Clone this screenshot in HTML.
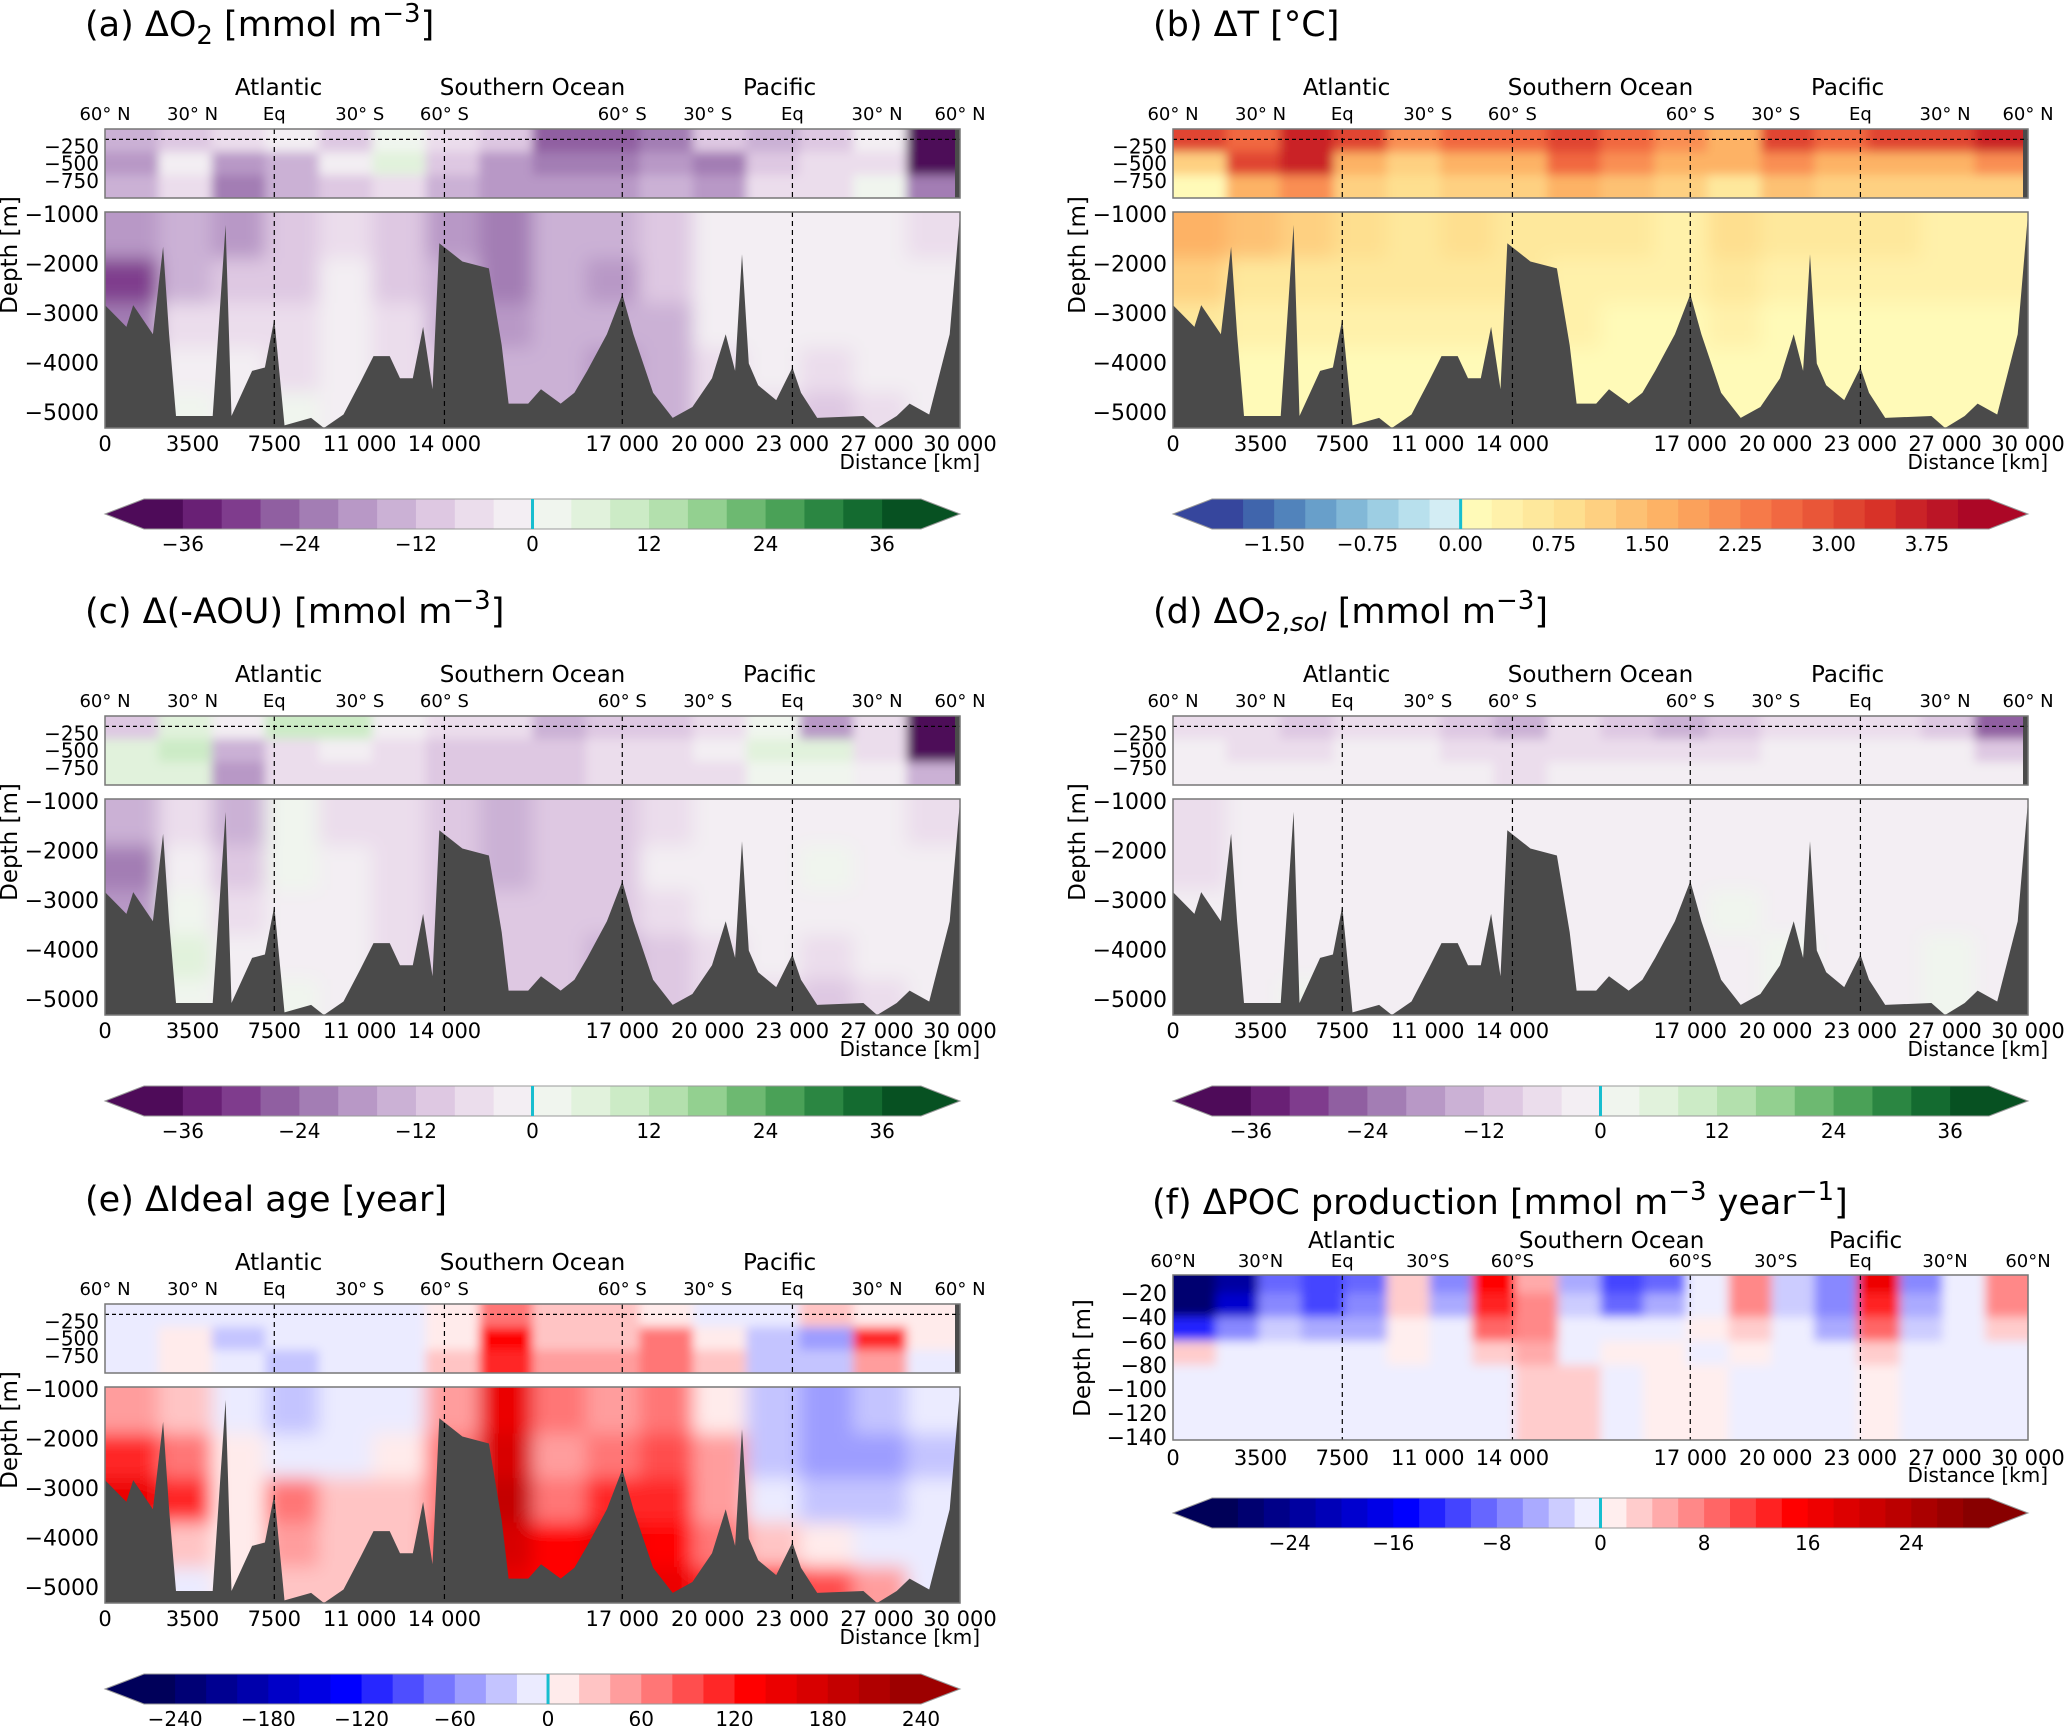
<!DOCTYPE html>
<html><head><meta charset="utf-8">
<style>
html,body{margin:0;padding:0;background:#fff;}
svg{display:block;font-family:"DejaVu Sans","Liberation Sans",sans-serif;}
</style></head>
<body>
<svg id="fig" width="2067" height="1726" viewBox="0 0 2067 1726" xmlns="http://www.w3.org/2000/svg">
<defs>
<filter id="blur" x="-5%" y="-20%" width="110%" height="140%"><feGaussianBlur stdDeviation="9"/></filter>
<filter id="blurS" x="-5%" y="-20%" width="110%" height="140%"><feGaussianBlur stdDeviation="5"/></filter>
</defs>
</svg>
<script>
// ---------- shared axis data ----------
const tickFracs=[0,0.1024,0.198,0.298,0.397,0.605,0.705,0.804,0.903,1];
const distLabels=["0","3500","7500","11 000","14 000","17 000","20 000","23 000","27 000","30 000"];
const latLabels=["60° N","30° N","Eq","30° S","60° S","60° S","30° S","Eq","30° N","60° N"];
const latLabelsF=["60°N","30°N","Eq","30°S","60°S","60°S","30°S","Eq","30°N","60°N"];
const dashFracs=[0.198,0.397,0.605,0.804];
const upperTicks=[-250,-500,-750];
const lowerTicks=[-1000,-2000,-3000,-4000,-5000];
const fTicks=[-20,-40,-60,-80,-100,-120,-140];
// bathymetry (distance fraction, depth m)
const bathyFrac=[0,0.025,0.033,0.056,0.068,0.075,0.083,0.126,0.141,0.148,0.172,0.187,0.198,0.21,0.241,0.256,0.279,0.299,0.314,0.333,0.345,0.36,0.372,0.383,0.391,0.418,0.449,0.464,0.472,0.495,0.51,0.533,0.549,0.564,0.587,0.605,0.618,0.641,0.664,0.687,0.71,0.726,0.737,0.745,0.753,0.764,0.785,0.804,0.814,0.833,0.887,0.903,0.926,0.941,0.964,0.988,1];
const bathyDepth=[-2840,-3280,-2840,-3430,-1660,-3430,-5080,-5080,-1220,-5080,-4170,-4100,-3130,-5270,-5120,-5340,-5050,-4390,-3870,-3870,-4320,-4320,-3280,-4540,-1590,-1960,-2100,-3650,-4830,-4830,-4540,-4830,-4610,-4170,-3430,-2620,-3430,-4610,-5120,-4900,-4320,-3430,-4170,-1810,-4020,-4460,-4760,-4100,-4610,-5120,-5080,-5340,-5080,-4830,-5050,-3430,-1000];
// ---------- panel field data ----------
const aUpper=[[-16,-12,-8,-4,-12,2,-8,-12,-28,-28,-24,-12,-16,-12,-4,-40],[-20,-4,-20,-16,-4,4,-12,-20,-24,-24,-20,-24,-12,-8,-8,-40],[-16,-8,-24,-16,-12,-8,-16,-20,-20,-20,-16,-20,-8,-8,0,-24]];
const aLower=[[-20,-16,-20,-12,-8,-12,-20,-24,-14,-16,-12,-4,-4,-4,-4,-6],[-32,-16,-12,-10,-4,-10,-16,-24,-16,-18,-12,-2,-4,-4,-4,-4],[-24,-6,-6,-8,-4,-8,-14,-20,-14,-16,-16,-4,-4,-4,-4,-4],[-20,-2,-4,-6,-4,-8,-12,-16,-14,-18,-16,-8,-4,-8,-4,-4],[-20,0,-4,2,-4,-6,-10,-14,-14,-18,-16,-8,-6,-12,-8,-4]];
const bUpper=[[3,2.6,3.5,3,2,2.6,2.6,3.1,2.6,2.1,1.6,3,2.6,3,3.1,3.6],[1,3,3.5,1.6,1.1,1.6,1.6,2.6,2.1,1.6,1.6,2.1,1.6,1.6,1.6,2.1],[0.1,1.6,2.1,1.1,0.8,1.1,1.1,1.6,1.3,1.1,0.6,1.3,1.1,1.1,1.1,1.1]];
const bLower=[[1.6,1.3,1.1,0.8,0.6,0.8,0.6,0.6,0.6,0.3,0.8,0.6,0.6,0.6,0.3,0.3],[1.1,0.6,0.6,0.6,0.6,0.6,0.6,0.3,0.3,0.3,0.6,0.3,0.3,0.3,0.3,0.3],[0.6,0.4,0.3,0.3,0.3,0.3,0.3,0.3,0.1,0.1,0.3,0.1,0.1,0.1,0.1,0.1],[0.4,0.1,0.1,0.1,0.1,0.1,0.1,0.1,0.1,0.1,0.1,0.1,0.1,0.1,0.1,0.1],[0.3,0.1,0.1,0.1,0.1,0.1,0.1,0.1,0.1,0.1,0.1,0.1,0.1,0.1,0.1,0.1]];
const cUpper=[[-10,4,-4,10,8,-4,-6,-8,-16,-10,-10,-8,0,-20,-6,-40],[4,10,-16,-6,-4,-8,-10,-12,-12,-8,-6,-4,4,4,-8,-40],[4,4,-18,-6,-8,-8,-12,-10,-10,-8,-6,-6,2,2,-4,-16]];
const cLower=[[-14,-6,-14,0,-6,-8,-12,-14,-10,-10,-6,-4,-4,-4,-4,-6],[-22,-4,-10,2,-4,-6,-12,-14,-10,-10,-4,-2,-2,0,-2,-4],[-18,2,-6,-2,-4,-6,-12,-12,-12,-12,-6,-4,-4,-4,-4,-4],[-12,4,-2,-2,-4,-6,-10,-12,-12,-14,-10,-6,-4,-6,-4,-4],[-12,2,-2,2,-4,-6,-10,-12,-12,-14,-12,-6,-6,-10,-6,-4]];
const dUpper=[[-6,-8,-10,-6,-8,-10,-14,-8,-10,-14,-10,-8,-8,-8,-10,-28],[-2,-8,-6,-4,-4,-6,-8,-6,-6,-6,-6,-4,-4,-4,-4,-10],[-2,-4,-4,-2,-2,-4,-6,-4,-4,-4,-2,-2,-2,-2,-2,-4]];
const dLower=[[-6,-4,-4,-2,-2,-2,-4,-4,-2,-2,-2,-2,-2,-2,-2,-2],[-6,-2,-2,-2,-2,-2,-2,-2,-2,-2,-2,-1,-2,-2,-2,-2],[-4,-1,-2,-2,-2,-2,-2,-2,-2,-2,1,-1,-2,-2,-1,-1],[-2,-1,-1,-1,-2,-2,-2,-2,-2,-2,-1,1,-1,-2,1,-1],[-2,-1,1,-1,-2,-2,-2,-2,-2,-2,-1,1,-1,-2,1,-1]];
const eUpper=[[-10,-10,-20,-10,-10,-10,10,60,20,20,10,-20,-20,20,10,10],[-10,10,-30,-20,-20,-10,10,120,30,30,60,10,-40,-60,100,10],[-10,10,-10,-30,-20,-10,20,110,40,40,60,20,-40,-40,40,-10]];
const eLower=[[40,20,-10,-30,-20,-10,50,140,60,40,70,10,-40,-50,-40,-20],[110,70,10,-20,-10,10,60,160,50,60,80,40,-30,-60,-60,-30],[140,110,10,60,20,20,70,180,70,100,100,40,-10,-30,-30,-20],[100,20,10,40,30,30,80,160,120,140,120,60,30,10,-10,-10],[80,-10,10,20,30,30,80,140,130,160,150,100,120,80,40,-10]];
const fField=[[-28,-24,-10,-12,-10,2,-8,14,4,-6,-12,-10,-2,6,-4,-8,16,-8,-2,6],[-28,-20,-8,-12,-8,2,-6,12,6,-4,-10,-6,-2,6,-4,-8,12,-6,-2,6],[-14,-8,-4,-6,-6,1,-2,8,6,-2,-2,-2,1,2,-2,-6,8,-4,-1,2],[2,-2,-2,-2,-2,1,-1,3,4,-1,1,1,-1,1,-1,-2,2,-1,-1,-1],[-1,-1,-1,-1,-1,-1,-1,-1,2,2,-1,1,1,-1,-1,-1,1,-1,-1,-1]];
const fDepthEdges=[-5,-20,-40,-60,-80,-143];
// colorbar labels
const cbPRGnTicks=[-36,-24,-12,0,12,24,36];
const cbTTicks=["-1.50","-0.75","0.00","0.75","1.50","2.25","3.00","3.75"];
const cbETicks=[-240,-180,-120,-60,0,60,120,180,240];
const cbFTicks=[-24,-16,-8,0,8,16,24];

// ---------- colormaps ----------
function hex(h){return [parseInt(h.substr(1,2),16),parseInt(h.substr(3,2),16),parseInt(h.substr(5,2),16)];}
function interp(anch,t){t=Math.max(0,Math.min(1,t));const n=anch.length-1;const i=Math.min(n-1,Math.floor(t*n));const f=t*n-i;const a=hex(anch[i]),b=hex(anch[i+1]);return `rgb(${a.map((v,k)=>Math.round(v+(b[k]-v)*f)).join(',')})`;}
const PRGN=["#40004b","#762a83","#9970ab","#c2a5cf","#e7d4e8","#f7f7f7","#d9f0d3","#a6dba0","#5aae61","#1b7837","#00441b"];
const SEIS=["#00004c","#0000ff","#ffffff","#ff0000","#7f0000"];
const BLUES=["#313695","#4575b4","#74add1","#abd9e9","#e0f3f8"];
const WARM=["#ffffbf","#fee090","#fdae61","#f46d43","#d73027","#a50026"];
function mkBin(step,lo,hi,fn){return v=>{let c=Math.floor(v/step)*step+step/2;c=Math.max(lo+step/2,Math.min(hi-step/2,c));return fn(c);};}
const cmA=mkBin(4,-40,40,c=>interp(PRGN,(c+40)/80));
const cmT=mkBin(0.25,-2,4.25,c=>c<0?interp(BLUES,(c+2)/2):interp(WARM,c/4.25));
const cmE=mkBin(20,-260,240,c=>interp(SEIS,(c+260)/520));
const cmF=mkBin(2,-30,30,c=>interp(SEIS,(c+30)/60));

const NS="http://www.w3.org/2000/svg";
const fig=document.getElementById('fig');
function el(tag,attrs,parent,text){const e=document.createElementNS(NS,tag);for(const k in attrs)e.setAttribute(k,attrs[k]);if(text!==undefined)e.textContent=text;(parent||fig).appendChild(e);return e;}
let clipId=0;
const PW=855;

function drawGrid(g,grid,x0,x1,yEdges,cmap,blurId){
  const ncol=grid[0].length,cw=(x1-x0)/ncol;
  const cid='clip'+(clipId++);
  const cp=el('clipPath',{id:cid},g);
  el('rect',{x:x0,y:yEdges[0],width:x1-x0,height:yEdges[yEdges.length-1]-yEdges[0]},cp);
  const holder=el('g',{'clip-path':`url(#${cid})`},g);
  const inner=el('g',{filter:`url(#${blurId})`},holder);
  grid.forEach((row,r)=>{row.forEach((v,c)=>{
    let xa=x0+c*cw,xb=xa+cw,ya=yEdges[r],yb=yEdges[r+1];
    if(c===0)xa-=30; if(c===ncol-1)xb+=30; if(r===0)ya-=30; if(r===grid.length-1)yb+=30;
    const rc=el('rect',{x:xa,y:ya,width:xb-xa+0.5,height:yb-ya+0.5,fill:cmap(v)},inner);
    
    
  });});
  return holder;
}

function colorbar(g,x0,x1,y0,y1,lo,hi,step,cmap,ticks,tickVals){
  const tri=39,ix0=x0+tri,ix1=x1-tri;
  const sx=v=>ix0+(v-lo)/(hi-lo)*(ix1-ix0);
  const cb=el('g',{},g);
  for(let v=lo;v<hi-1e-9;v+=step){el('rect',{x:sx(v),y:y0,width:sx(v+step)-sx(v)+0.6,height:y1-y0,fill:cmap(v+step/2)},cb);}
  el('polygon',{points:`${x0},${(y0+y1)/2} ${ix0},${y0} ${ix0},${y1}`,fill:cmap(lo+step/2)},cb);
  el('polygon',{points:`${x1},${(y0+y1)/2} ${ix1},${y0} ${ix1},${y1}`,fill:cmap(hi-step/2)},cb);
  el('polygon',{points:`${x0},${(y0+y1)/2} ${ix0},${y0} ${ix1},${y0} ${x1},${(y0+y1)/2} ${ix1},${y1} ${ix0},${y1}`,fill:'none',stroke:'#999','stroke-width':1},cb);
  el('line',{x1:sx(0),x2:sx(0),y1:y0,y2:y1,stroke:'#17becf','stroke-width':3},cb);
  ticks.forEach((t,i)=>{const tx=el('text',{x:sx(tickVals[i]),y:y1+22,'text-anchor':'middle','font-size':20,fill:'#000'},cb,String(t).replace('-','\u2212'));
    });
}

function titleText(g,x,y,html,name){const t=el('text',{x:x,y:y,'font-size':35,fill:'#000',},g);t.innerHTML=html;return t;}

function sectionPanel(P){
  const g=el('g',{});
  const x0=P.x0,x1=P.x0+PW,oy=P.oy;
  const xs=f=>x0+f*(x1-x0);
  const uT=oy+129,uB=oy+198,lT=oy+212,lB=oy+428;
  const yU=d=>uT+(-d)/1000*(uB-uT);
  const yL=d=>(oy+214)+(-1000-d)/1000*49.5;
  titleText(g,P.x0-20,oy+36,P.title,'panel-title');
  [["Atlantic",0.203],["Southern Ocean",0.5],["Pacific",0.789]].forEach(b=>{el('text',{x:xs(b[1]),y:oy+95,'text-anchor':'middle','font-size':23,},g,b[0]);});
  tickFracs.forEach((f,i)=>{el('text',{x:xs(f),y:oy+120,'text-anchor':'middle','font-size':18,},g,latLabels[i]);});
  drawGrid(g,P.upper,x0,x1,[uT,yU(-333),yU(-666),uB],P.cmap,'blurS');
  drawGrid(g,P.lower,x0,x1,[lT,yL(-1900),yL(-2800),yL(-3700),yL(-4600),lB],P.cmap,'blur');
  let pts=bathyFrac.map((f,i)=>`${xs(f).toFixed(1)},${Math.min(lB,yL(bathyDepth[i])).toFixed(1)}`);
  pts.push(`${x1},${lB}`,`${x0},${lB}`);
  el('polygon',{points:pts.join(' '),fill:'#4a4a4a',},g);
  el('rect',{x:x1-5,y:uT,width:5,height:uB-uT,fill:'#4a4a4a'},g);
  dashFracs.forEach(f=>{el('line',{x1:xs(f),x2:xs(f),y1:uT,y2:uB,stroke:'#000','stroke-width':1.2,'stroke-dasharray':'5,4'},g);el('line',{x1:xs(f),x2:xs(f),y1:lT,y2:lB,stroke:'#000','stroke-width':1.2,'stroke-dasharray':'5,4'},g);});
  el('line',{x1:x0,x2:x1,y1:yU(-150),y2:yU(-150),stroke:'#000','stroke-width':1.2,'stroke-dasharray':'4,3'},g);
  el('rect',{x:x0,y:uT,width:x1-x0,height:uB-uT,fill:'none',stroke:'#777','stroke-width':1.5},g);
  el('rect',{x:x0,y:lT,width:x1-x0,height:lB-lT,fill:'none',stroke:'#777','stroke-width':1.5},g);
  upperTicks.forEach(t=>{el('text',{x:x0-6,y:yU(t)+7,'text-anchor':'end','font-size':20,},g,String(t).replace('-','\u2212'));});
  lowerTicks.forEach(t=>{el('text',{x:x0-6,y:yL(t)+8,'text-anchor':'end','font-size':22,},g,String(t).replace('-','\u2212'));});
  el('text',{x:P.x0-88,y:oy+255,'text-anchor':'middle','font-size':23,transform:`rotate(-90 ${P.x0-88} ${oy+255})`,},g,'Depth [m]');
  tickFracs.forEach((f,i)=>{el('text',{x:xs(f),y:oy+451,'text-anchor':'middle','font-size':21,},g,distLabels[i]);});
  el('text',{x:x1+20,y:oy+469,'text-anchor':'end','font-size':20,},g,'Distance [km]');
  colorbar(g,x0,x1,oy+499,oy+529,P.cb.lo,P.cb.hi,P.cb.step,P.cmap,P.cb.ticks,P.cb.vals);
}

sectionPanel({name:'panel-a-delta-o2',x0:105,oy:0,title:'(a) ΔO<tspan baseline-shift="-8" font-size="26">2</tspan> [mmol m<tspan baseline-shift="14" font-size="26">−3</tspan>]',upper:aUpper,lower:aLower,cmap:cmA,cb:{lo:-40,hi:40,step:4,ticks:cbPRGnTicks,vals:cbPRGnTicks}});
sectionPanel({name:'panel-b-delta-t',x0:1173,oy:0,title:'(b) ΔT [°C]',upper:bUpper,lower:bLower,cmap:cmT,cb:{lo:-2,hi:4.25,step:0.25,ticks:cbTTicks,vals:cbTTicks.map(Number)}});
sectionPanel({name:'panel-c-delta-aou',x0:105,oy:587,title:'(c) Δ(-AOU) [mmol m<tspan baseline-shift="14" font-size="26">−3</tspan>]',upper:cUpper,lower:cLower,cmap:cmA,cb:{lo:-40,hi:40,step:4,ticks:cbPRGnTicks,vals:cbPRGnTicks}});
sectionPanel({name:'panel-d-delta-o2sol',x0:1173,oy:587,title:'(d) ΔO<tspan baseline-shift="-8" font-size="26">2,<tspan font-style="italic">sol</tspan></tspan> [mmol m<tspan baseline-shift="14" font-size="26">−3</tspan>]',upper:dUpper,lower:dLower,cmap:cmA,cb:{lo:-40,hi:40,step:4,ticks:cbPRGnTicks,vals:cbPRGnTicks}});
sectionPanel({name:'panel-e-delta-ideal-age',x0:105,oy:1175,title:'(e) ΔIdeal age [year]',upper:eUpper,lower:eLower,cmap:cmE,cb:{lo:-260,hi:240,step:20,ticks:cbETicks,vals:cbETicks}});

// ---------- panel f ----------
(function(){
  const g=el('g',{});
  const x0=1173,x1=1173+PW,pT=1275,pB=1440;
  const xs=f=>x0+f*(x1-x0);
  const yF=d=>1293+(-20-d)/20*24;
  titleText(g,1152,1214,'(f) ΔPOC production [mmol m<tspan baseline-shift="14" font-size="26">−3</tspan> year<tspan baseline-shift="14" font-size="26">−1</tspan>]','panel-title');
  [["Atlantic",0.209],["Southern Ocean",0.513],["Pacific",0.81]].forEach(b=>{el('text',{x:xs(b[1]),y:1248,'text-anchor':'middle','font-size':23,},g,b[0]);});
  tickFracs.forEach((f,i)=>{el('text',{x:xs(f),y:1267,'text-anchor':'middle','font-size':18,},g,latLabelsF[i]);});
  const edges=fDepthEdges.map(yF);edges[0]=pT;edges[edges.length-1]=pB;
  drawGrid(g,fField,x0,x1,edges,cmF,'blurS');
  dashFracs.forEach(f=>{el('line',{x1:xs(f),x2:xs(f),y1:pT,y2:pB,stroke:'#000','stroke-width':1.2,'stroke-dasharray':'5,4'},g);});
  el('rect',{x:x0,y:pT,width:x1-x0,height:pB-pT,fill:'none',stroke:'#777','stroke-width':1.5},g);
  fTicks.forEach(t=>{el('text',{x:x0-6,y:yF(t)+8,'text-anchor':'end','font-size':22,},g,String(t).replace('-','\u2212'));});
  el('text',{x:1090,y:1358,'text-anchor':'middle','font-size':23,transform:'rotate(-90 1090 1358)',},g,'Depth [m]');
  tickFracs.forEach((f,i)=>{el('text',{x:xs(f),y:1465,'text-anchor':'middle','font-size':21,},g,distLabels[i]);});
  el('text',{x:x1+20,y:1482,'text-anchor':'end','font-size':20,},g,'Distance [km]');
  colorbar(g,x0,x1,1498,1528,-30,30,2,cmF,cbFTicks,cbFTicks);
})();
</script>
</body></html>
